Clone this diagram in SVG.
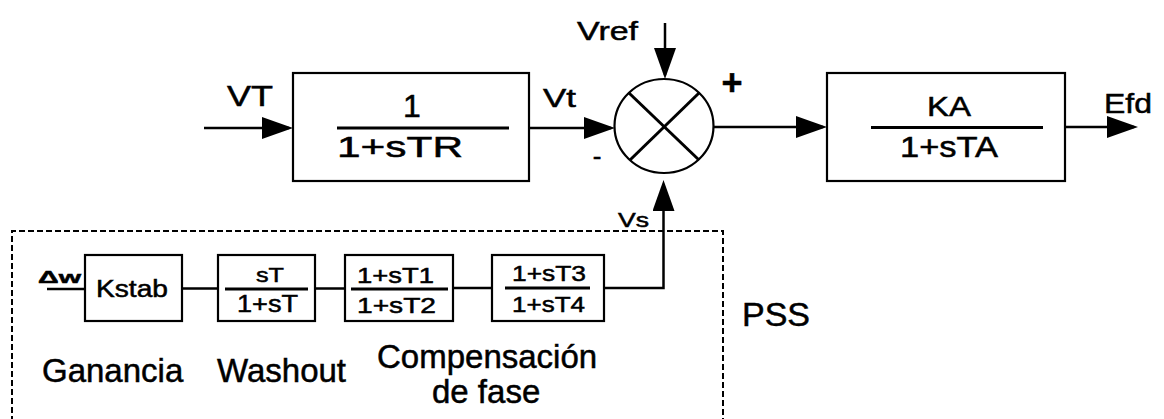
<svg xmlns="http://www.w3.org/2000/svg" width="1164" height="419" viewBox="0 0 1164 419">
<style>
  text { font-family: "Liberation Sans", Arial, sans-serif; fill: #000; stroke: #000; stroke-width: 0.5; }
  .box { fill: none; stroke: #000; stroke-width: 2.2; }
  .bar { stroke: #000; stroke-width: 3; }
  .wire { fill: none; stroke: #000; stroke-width: 2.5; }
  .arr { fill: none; stroke: #000; stroke-width: 2.5; marker-end: url(#ah); }
  .dash { fill: none; stroke: #000; stroke-width: 2; stroke-dasharray: 6 3; }
</style>
<defs>
  <marker id="ah" markerUnits="userSpaceOnUse" markerWidth="32" markerHeight="24" refX="27" refY="11" orient="auto">
    <path d="M0,0 L31,11 L0,22 Z" fill="#000"/>
  </marker>
</defs>
<rect width="1164" height="419" fill="#fff"/>

<g id="connectors">
  <line class="arr" x1="204" y1="128" x2="289" y2="128"/>
  <line class="arr" x1="529" y1="128" x2="611" y2="128"/>
  <line class="arr" x1="665" y1="23" x2="665" y2="75"/>
  <line class="arr" x1="713" y1="127" x2="823" y2="127"/>
  <line class="arr" x1="1065" y1="127" x2="1134" y2="127"/>
  <line class="wire" x1="47" y1="289" x2="85" y2="289"/>
  <line class="wire" x1="182" y1="288.5" x2="218" y2="288.5"/>
  <line class="wire" x1="315" y1="288.5" x2="345" y2="288.5"/>
  <line class="wire" x1="453" y1="288" x2="492" y2="288"/>
  <polyline class="arr" points="604,288 663.5,288 663.5,184"/>
</g>

<g id="labels">
  <text x="227" y="106" font-size="29" textLength="46" lengthAdjust="spacingAndGlyphs">VT</text>
  <text x="543" y="107" font-size="26" textLength="33" lengthAdjust="spacingAndGlyphs">Vt</text>
  <text x="577" y="40" font-size="26" textLength="61" lengthAdjust="spacingAndGlyphs">Vref</text>
  <text x="732" y="95" font-size="36" font-weight="bold" text-anchor="middle">+</text>
  <text x="597" y="165" font-size="26" text-anchor="middle">-</text>
  <text x="1104" y="113" font-size="28" textLength="48" lengthAdjust="spacingAndGlyphs">Efd</text>
  <text x="38" y="283" font-size="17" font-weight="bold" textLength="43" lengthAdjust="spacingAndGlyphs">Δw</text>
  <text x="618" y="227" font-size="20" textLength="31" lengthAdjust="spacingAndGlyphs">Vs</text>
  <text x="742" y="326" font-size="34">PSS</text>
  <text x="42" y="382" font-size="33">Ganancia</text>
  <text x="217" y="382" font-size="33">Washout</text>
  <text x="377" y="368" font-size="33">Compensación</text>
  <text x="432" y="403" font-size="33">de fase</text>
</g>

<g id="pss-frame">
  <path class="dash" d="M12,422 V231 H723 V422"/>
</g>

<g id="tr-block">
  <rect class="box" x="293" y="73" width="236" height="108"/>
  <line class="bar" x1="337" y1="128" x2="509" y2="128"/>
  <text x="412" y="117" font-size="32" text-anchor="middle">1</text>
  <text x="337" y="157" font-size="30" textLength="126" lengthAdjust="spacingAndGlyphs">1+sTR</text>
</g>

<g id="sum">
  <ellipse cx="664" cy="126" rx="49.5" ry="47" fill="none" stroke="#000" stroke-width="2.2"/>
  <line x1="629" y1="93" x2="699" y2="160" stroke="#000" stroke-width="3"/>
  <line x1="699" y1="93" x2="630" y2="160" stroke="#000" stroke-width="3"/>
</g>

<g id="ka-block">
  <rect class="box" x="827" y="73" width="238" height="108"/>
  <line class="bar" x1="871" y1="127.5" x2="1043" y2="127.5"/>
  <text x="927" y="116" font-size="27" textLength="44" lengthAdjust="spacingAndGlyphs">KA</text>
  <text x="900" y="156.5" font-size="29" textLength="98" lengthAdjust="spacingAndGlyphs">1+sTA</text>
</g>

<g id="kstab">
  <rect class="box" x="85" y="255" width="97" height="66"/>
  <text x="96" y="297" font-size="23" textLength="72" lengthAdjust="spacingAndGlyphs">Kstab</text>
</g>

<g id="washout">
  <rect class="box" x="218" y="255" width="97" height="66"/>
  <line class="bar" x1="225" y1="289" x2="308" y2="289"/>
  <text x="256" y="282" font-size="21" textLength="28" lengthAdjust="spacingAndGlyphs">sT</text>
  <text x="237" y="312" font-size="23" textLength="61" lengthAdjust="spacingAndGlyphs">1+sT</text>
</g>

<g id="lead-lag-1">
  <rect class="box" x="345" y="255" width="108" height="66"/>
  <line class="bar" x1="351" y1="289" x2="448" y2="289"/>
  <text x="357" y="283" font-size="22" textLength="77" lengthAdjust="spacingAndGlyphs">1+sT1</text>
  <text x="357" y="313" font-size="22" textLength="79" lengthAdjust="spacingAndGlyphs">1+sT2</text>
</g>

<g id="lead-lag-2">
  <rect class="box" x="492" y="255" width="112" height="66"/>
  <line class="bar" x1="505" y1="288" x2="590" y2="288"/>
  <text x="512" y="281" font-size="22" textLength="74" lengthAdjust="spacingAndGlyphs">1+sT3</text>
  <text x="512" y="312" font-size="22" textLength="73" lengthAdjust="spacingAndGlyphs">1+sT4</text>
</g>
</svg>
